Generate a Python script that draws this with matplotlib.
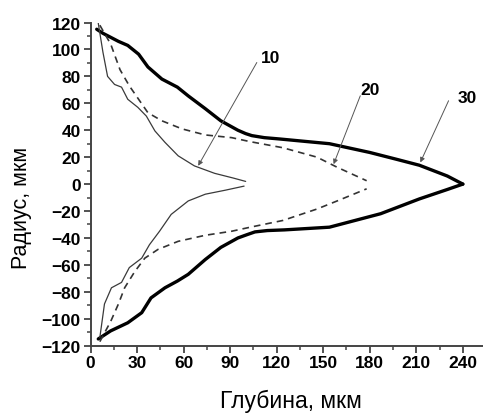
import matplotlib
matplotlib.use("Agg")
import matplotlib.pyplot as plt
from matplotlib.ticker import MultipleLocator

# ---- data (depth, radius) ----
t30_up_x = [4, 8, 13, 18, 24, 31, 37, 46, 56, 63, 74, 84, 95, 100, 104, 112, 122, 154, 180, 197, 212, 230, 240]
t30_up_y = [115, 112, 109, 106, 103, 96.5, 87, 78, 72, 65.5, 56, 47, 40, 37.5, 36, 34.5, 33.5, 30, 23.5, 18.5, 14, 6, 0]
t30_lo_x = [5, 13, 24, 33, 39, 48, 56, 63, 74, 84, 95, 101, 106, 114, 125, 154, 187, 212, 230, 240]
t30_lo_y = [-115, -109, -103, -95.5, -84.5, -77, -72, -67, -56, -47, -40, -37.5, -35.5, -34.5, -34, -32, -22, -11, -4, 0]

t20_up_x = [6, 13, 19, 25, 31, 37, 46, 59, 74, 91, 103, 124, 146, 159, 178]
t20_up_y = [118, 104, 85, 73, 63, 53, 47, 41, 36.5, 34.5, 31.5, 27, 20, 12.5, 2.5]
t20_lo_x = [6, 13, 18, 22, 28.5, 35, 43.5, 56.5, 74, 91, 103, 124, 146, 159, 178]
t20_lo_y = [-117, -102, -89, -77, -65, -55, -48.5, -42.5, -38, -35, -32, -27, -18.5, -12.5, -3.5]

t10_up_x = [5, 8, 11, 15.5, 20, 24, 30.5, 36, 41.5, 48, 56.5, 67, 80, 92, 100]
t10_up_y = [119.5, 98, 80, 74, 72, 63, 57, 50.5, 39.5, 31, 21, 13.5, 8, 4.5, 2]
t10_lo_x = [6, 9, 13.5, 20, 25, 33, 38, 44.5, 52, 63, 74, 87, 99]
t10_lo_y = [-114, -89, -77, -73, -62, -55, -45, -35, -22.5, -12.5, -7.5, -4.5, -1.5]

labels = ["10", "20", "30"]

plt.rcParams['font.family'] = ['Liberation Sans', 'DejaVu Sans']

fig = plt.figure(figsize=(4.83, 4.14), dpi=100)
ax = fig.add_axes([0.1874, 0.1626, 1 - 0.1874, 0.7806])

kw = dict(solid_capstyle='round', solid_joinstyle='round')
ax.plot(t30_up_x, t30_up_y, color='black', lw=2.4, **kw)
ax.plot(t30_lo_x, t30_lo_y, color='black', lw=2.4, **kw)
ax.plot(t20_up_x, t20_up_y, color='#333333', lw=1.2, dashes=(4, 3))
ax.plot(t20_lo_x, t20_lo_y, color='#333333', lw=1.2, dashes=(4, 3))
ax.plot(t10_up_x, t10_up_y, color='#3a3a3a', lw=0.9, **kw)
ax.plot(t10_lo_x, t10_lo_y, color='#3a3a3a', lw=0.9, **kw)

ap = dict(arrowstyle='-|>', color='#555555', lw=0.7, mutation_scale=7, shrinkA=0, shrinkB=0)
ax.annotate('', xy=(69.4, 13.6), xytext=(107.2, 90.3), arrowprops=ap)
ax.annotate('', xy=(156.7, 14.8), xytext=(173.9, 65.6), arrowprops=ap)
ax.annotate('', xy=(212.6, 16.1), xytext=(230.8, 61.9), arrowprops=ap)
ax.text(116, 94.3, labels[0], fontsize=12.5, fontweight='bold', ha='center', va='center')
ax.text(180.3, 70.5, labels[1], fontsize=12.5, fontweight='bold', ha='center', va='center')
ax.text(242.7, 64.4, labels[2], fontsize=12.5, fontweight='bold', ha='center', va='center')

ax.set_xlim(0, 253)
ax.set_ylim(-120, 120)
ax.xaxis.set_major_locator(MultipleLocator(30))
ax.xaxis.set_minor_locator(MultipleLocator(15))
ax.yaxis.set_major_locator(MultipleLocator(20))
ax.yaxis.set_minor_locator(MultipleLocator(10))
ax.set_xticks(range(0, 241, 30))

for s in ['top', 'right']:
    ax.spines[s].set_visible(False)
for s in ['left', 'bottom']:
    ax.spines[s].set_linewidth(1.4)
    ax.spines[s].set_color('#444444')

ax.tick_params(which='major', direction='out', length=5, width=1.3, color='#444444',
               labelsize=12.5, pad=2)
ax.tick_params(which='minor', direction='out', length=3, width=1.1, color='#444444')
for lab in ax.get_xticklabels() + ax.get_yticklabels():
    lab.set_fontweight('bold')

fig.text(290.5 / 483, 1 - 408 / 414, 'Глубина, мкм', fontsize=16.5,
         ha='center', va='baseline')
fig.text(27 / 483, 1 - 208 / 414, 'Радиус, мкм', fontsize=15.5, rotation=90,
         rotation_mode='anchor', ha='center', va='baseline')

fig.savefig('out.png', dpi=100)
